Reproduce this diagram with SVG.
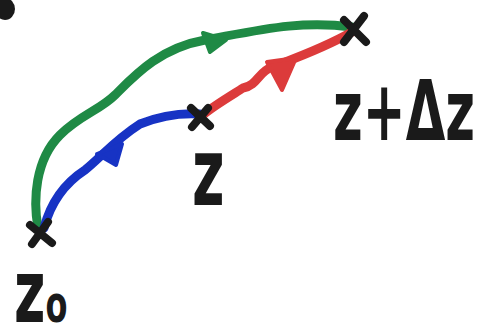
<svg xmlns="http://www.w3.org/2000/svg" width="486" height="335" viewBox="0 0 486 335">
<style>
.stroke{fill:none;stroke-width:9;stroke-linecap:round;stroke-linejoin:round}
.g{stroke:#1f8a45}.b{stroke:#1733c4}.r{stroke:#dc3b3b}
.x{stroke:#1a1a1a;stroke-width:8;stroke-linecap:round;fill:none}
.lbl{font-family:"DejaVu Sans",sans-serif;font-weight:bold;fill:#1a1a1a}
</style>
<rect width="486" height="335" fill="#ffffff"/>
<ellipse cx="5" cy="9" rx="10" ry="11" fill="#1a1a1a"/>
<g id="connectors">
<path class="stroke g" d="M38,228 C33,200 35,160 60,135 C80,115 100,110 115,95 C135,75 160,48 205,40 C260,30 300,20 352,27"/>
<path class="stroke b" d="M44,228 C50,205 62,185 85,170 C100,158 115,140 140,124 C165,114 185,113 200,114"/>
<path class="stroke r" d="M204,114 C215,105 232,95 243,88 C258,85 258,72 272,67 C290,60 320,50 352,32"/>
<path d="M203,33 L226,40 L210,52 Z" fill="#1f8a45" stroke="#1f8a45" stroke-width="4" stroke-linejoin="round"/>
<path d="M97,154 L122,144 L116,165 Z" fill="#1733c4" stroke="#1733c4" stroke-width="4" stroke-linejoin="round"/>
<path d="M267,62 L296,58 L282,90 Z" fill="#dc3b3b" stroke="#dc3b3b" stroke-width="4" stroke-linejoin="round"/>
</g>
<g id="z0">
<path class="x" d="M30,225 L52,243 M48,222 L32,244"/>
<text class="lbl" transform="translate(14,322) scale(1,1.6)" font-size="54">z<tspan font-size="32">o</tspan></text>
</g>
<g id="z">
<path class="x" d="M191,108 L210,126 M208,108 L192,127"/>
<text class="lbl" transform="translate(192,205) scale(1,1.7)" font-size="56">z</text>
</g>
<g id="zdz">
<path class="x" d="M344,20 L366,42 M364,16 L344,42"/>
<text class="lbl" transform="translate(333,140) scale(1,1.5)" font-size="56" textLength="142" lengthAdjust="spacingAndGlyphs">z+Δz</text>
</g>
</svg>
